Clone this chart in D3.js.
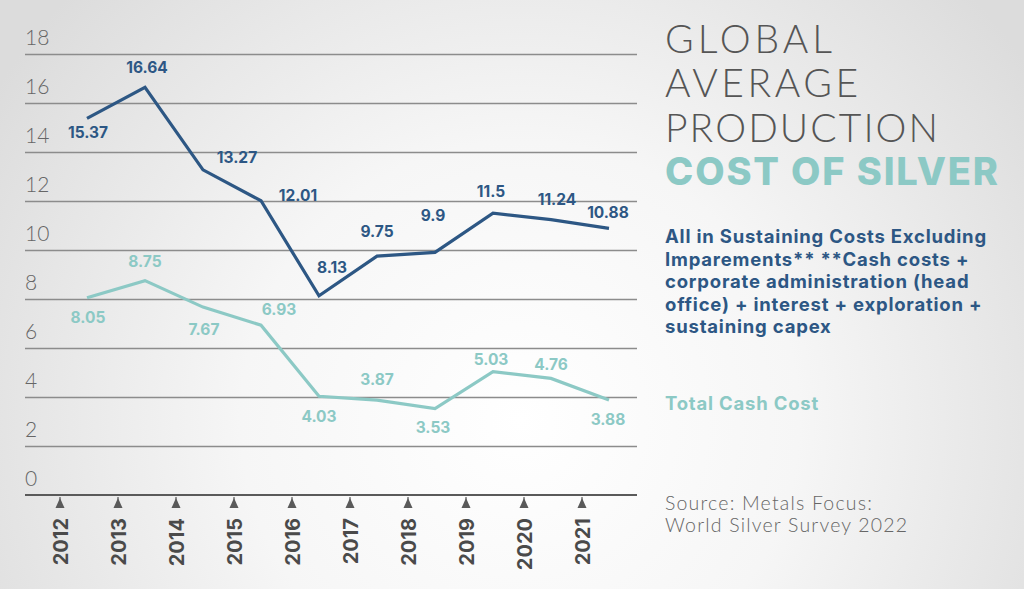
<!DOCTYPE html>
<html><head><meta charset="utf-8">
<script src="https://cdn.jsdelivr.net/npm/d3@7"></script>
<style>
html,body{margin:0;padding:0;overflow:hidden;}
svg{display:block;}
</style></head>
<body>
<script>
// ---- data ----
const years = ["2012","2013","2014","2015","2016","2017","2018","2019","2020","2021"];
const aisc = [15.37,16.64,13.27,12.01,8.13,9.75,9.9,11.5,11.24,10.88];
const tcc  = [8.05,8.75,7.67,6.93,4.03,3.87,3.53,5.03,4.76,3.88];
const yTicks = [0,2,4,6,8,10,12,14,16,18];
const titleLines = ["GLOBAL","AVERAGE","PRODUCTION"];
const titleAccent = "COST OF SILVER";
const aiscLegend = ["All in Sustaining Costs Excluding","Imparements** **Cash costs +","corporate administration (head","office) + interest + exploration +","sustaining capex"];
const tccLegend = "Total Cash Cost";
const sourceLines = ["Source: Metals Focus:","World Silver Survey 2022"];

// label placement offsets (layout, relative to point)
const aiscOff = [[1,20],[2,-14],[34,-7],[37,0],[13,-23],[0,-19],[-2,-31],[-2,-16],[6,-15],[-1,-10]];
const tccOff  = [[1,25],[0,-14],[1,28],[18,-10],[0,26],[0,-15],[-2,24],[-2,-7],[0,-8],[-1,25]];
// title line widths (layout)
const titleWidths = [167,193,273];
const accentWidth = 333;

const W=1024,H=589;
const blue="#2d5784", teal="#8cc9c5", grey="#5a5a5a";
const FONT="Inter, 'Open Sans', sans-serif";

const svg=d3.select("body").append("svg").attr("width",W).attr("height",H);
const defs=svg.append("defs");
const rg=defs.append("radialGradient").attr("id","bg").attr("gradientUnits","userSpaceOnUse")
  .attr("cx",520).attr("cy",420).attr("r",620);
rg.append("stop").attr("offset","0").attr("stop-color","#ffffff");
rg.append("stop").attr("offset","0.45").attr("stop-color","#f6f6f6");
rg.append("stop").attr("offset","1").attr("stop-color","#dcdcdc");
svg.append("rect").attr("width",W).attr("height",H).attr("fill","url(#bg)");

const x=d3.scalePoint().domain(years).range([87,609]);
const y=d3.scaleLinear().domain([0,18]).range([495,54]);
const gx0=25,gx1=637;

// gridlines via axis
const yAxis=d3.axisRight(y).tickValues(yTicks.filter(d=>d>0)).tickSize(gx1-gx0).tickFormat("");
const gy=svg.append("g").attr("transform",`translate(${gx0},0)`).call(yAxis);
gy.select(".domain").remove();
gy.selectAll(".tick line").attr("stroke","#8c8c8c").attr("stroke-width",1.5);

// y labels
svg.append("g").selectAll("text").data(yTicks).join("text")
  .attr("x",gx0).attr("y",d=>y(d)-9)
  .attr("font-family","Lato, "+FONT).attr("font-weight",300).attr("font-size",21)
  .attr("fill","#666").text(d=>d);

// x axis baseline
svg.append("line").attr("x1",gx0).attr("x2",gx1).attr("y1",y(0)).attr("y2",y(0))
  .attr("stroke",grey).attr("stroke-width",2);

// tick triangles + year labels
const tk=svg.append("g").selectAll("g").data(years).join("g")
  .attr("transform",d=>`translate(${x(d)-27},${y(0)})`);
tk.append("path").attr("d","M0,3 L4.5,13 L-4.5,13 Z").attr("fill",grey);
tk.append("line").attr("x1",0).attr("x2",0).attr("y1",2).attr("y2",8).attr("stroke",grey).attr("stroke-width",1.2);
tk.append("text").attr("transform","translate(7.5,23) rotate(-90)")
  .attr("text-anchor","end").attr("font-family",FONT).attr("font-weight",700)
  .attr("font-size",20).attr("fill","#4a4a4a").text(d=>d);

// lines
const line=d3.line().x((d,i)=>x(years[i])).y(d=>y(d));
svg.append("path").datum(tcc).attr("d",line).attr("fill","none").attr("stroke",teal).attr("stroke-width",3.2);
svg.append("path").datum(aisc).attr("d",line).attr("fill","none").attr("stroke",blue).attr("stroke-width",3.2);

// value labels
function labels(vals,off,col){
  svg.append("g").selectAll("text").data(vals).join("text")
    .attr("x",(d,i)=>x(years[i])+off[i][0]).attr("y",(d,i)=>y(d)+off[i][1])
    .attr("text-anchor","middle").attr("font-family",FONT).attr("font-weight",700)
    .attr("font-size",15.5).attr("fill",col).text(d=>d);
}
labels(aisc,aiscOff,blue);
labels(tcc,tccOff,teal);

// title
const tg=svg.append("g").attr("font-family","Lato, "+FONT);
tg.selectAll("text.t").data(titleLines).join("text").attr("class","t")
  .attr("x",665).attr("y",(d,i)=>53+i*44.3)
  .attr("textLength",(d,i)=>titleWidths[i]).attr("lengthAdjust","spacing")
  .attr("font-weight",300).attr("font-size",39).attr("fill","#555").text(d=>d);
tg.append("text").attr("x",665).attr("y",185).attr("font-family",FONT)
  .attr("textLength",accentWidth).attr("lengthAdjust","spacing")
  .attr("font-weight",800).attr("font-size",38).attr("fill",teal).text(titleAccent);

// legends
svg.append("g").selectAll("text").data(aiscLegend).join("text")
  .attr("x",665).attr("y",(d,i)=>243+i*22.5)
  .attr("font-family",FONT).attr("font-weight",700).attr("font-size",18.5)
  .attr("letter-spacing",0.8).attr("fill",blue).text(d=>d);
svg.append("text").attr("x",665).attr("y",410).attr("font-family",FONT).attr("font-weight",700)
  .attr("font-size",18.5).attr("letter-spacing",0.8).attr("fill",teal).text(tccLegend);
svg.append("g").selectAll("text").data(sourceLines).join("text")
  .attr("x",665).attr("y",(d,i)=>510+i*22)
  .attr("font-family","Lato, "+FONT).attr("font-weight",300).attr("font-size",19.5)
  .attr("letter-spacing",1.2).attr("fill","#666").text(d=>d);
</script>
</body></html>
